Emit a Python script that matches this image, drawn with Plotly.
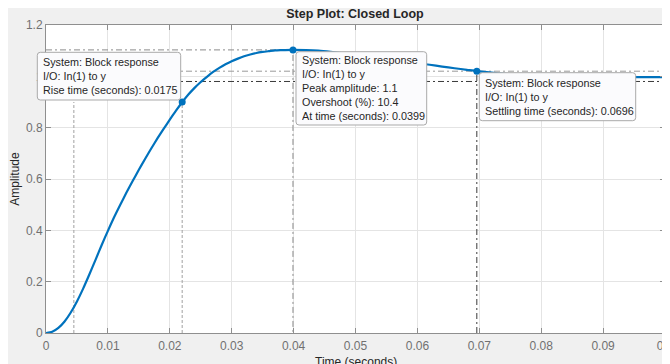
import plotly.graph_objects as go

# ---------------- data ----------------
time_s = [0.000, 0.001, 0.002, 0.003, 0.004, 0.005, 0.006, 0.007, 0.008, 0.009,
          0.010, 0.011, 0.012, 0.013, 0.014, 0.015, 0.016, 0.017, 0.018, 0.019,
          0.020, 0.021, 0.022, 0.023, 0.024, 0.025, 0.026, 0.027, 0.028, 0.029,
          0.030, 0.031, 0.032, 0.033, 0.034, 0.035, 0.036, 0.037, 0.038, 0.0399,
          0.042, 0.044, 0.046, 0.048, 0.050, 0.052, 0.054, 0.056, 0.058, 0.060,
          0.062, 0.064, 0.066, 0.068, 0.0696, 0.072, 0.074, 0.076, 0.078, 0.080,
          0.082, 0.084, 0.086, 0.088, 0.090, 0.092, 0.094, 0.096, 0.098, 0.100]
amplitude = [0.000, 0.005, 0.020, 0.045, 0.080, 0.123, 0.173, 0.228, 0.285, 0.343,
             0.398, 0.451, 0.500, 0.547, 0.592, 0.636, 0.678, 0.719, 0.758, 0.795,
             0.831, 0.866, 0.899, 0.929, 0.955, 0.978, 0.998, 1.017, 1.033, 1.047,
             1.059, 1.069, 1.078, 1.085, 1.091, 1.095, 1.098, 1.101, 1.102, 1.103,
             1.102, 1.0998, 1.0952, 1.0897, 1.0832, 1.0767, 1.0702, 1.0637, 1.0574, 1.0512,
             1.045, 1.038, 1.0315, 1.0255, 1.0205, 1.0145, 1.0095, 1.0055, 1.0025, 1.0003,
             0.9985, 0.9975, 0.997, 0.9967, 0.9966, 0.9966, 0.9967, 0.9968, 0.997, 0.9972]

x_ticks = [0, 0.01, 0.02, 0.03, 0.04, 0.05, 0.06, 0.07, 0.08, 0.09, 0.1]
x_tick_labels = ["0", "0.01", "0.02", "0.03", "0.04", "0.05", "0.06", "0.07", "0.08", "0.09", "0.1"]
y_ticks = [0, 0.2, 0.4, 0.6, 0.8, 1.0, 1.2]
y_tick_labels = ["0", "0.2", "0.4", "0.6", "0.8", "1", "1.2"]

rise_times = [0.0045, 0.022]
rise_high = 0.9
peak_time = 0.0399
peak_amp = 1.103
settle_time = 0.0696
settle_amp = 1.02
settle_band = [0.98, 1.02]

x_title = "Time (seconds)"
y_title = "Amplitude"
chart_title = "Step Plot: Closed Loop"

tip_texts = [
    ["System: Block response", "I/O: In(1) to y", "Rise time (seconds): 0.0175"],
    ["System: Block response", "I/O: In(1) to y", "Peak amplitude: 1.1",
     "Overshoot (%): 10.4", "At time (seconds): 0.0399"],
    ["System: Block response", "I/O: In(1) to y", "Settling time (seconds): 0.0696"],
]

# ---------------- geometry / style ----------------
# The page places the figure 8 px from the top-left corner of the window,
# so the figure is sized to end exactly at the window edge.
OFF = 8
WIN_W, WIN_H = 670, 364
W, H = WIN_W - OFF, WIN_H - OFF
PLOT_L, PLOT_R, PLOT_T, PLOT_B = 46, 665, 25, 333      # plot box in window pixels
ML, MT = PLOT_L - OFF, PLOT_T - OFF
PW, PH = PLOT_R - PLOT_L, PLOT_B - PLOT_T
MR, MB = W - ML - PW, H - MT - PH
FONT = "Liberation Sans, Arial, Helvetica, sans-serif"
BLUE = "#0072BD"
DASHDOT = "6px,3px,2px,3px"


def px2x(px):
    return (px - PLOT_L) / PW


def py2y(py):
    return (PLOT_B - py) / PH


def rounded_rect(x0, y0, x1, y1, r=3):
    pts = [("M", x0 + r, y0), ("L", x1 - r, y0), ("Q", x1, y0, x1, y0 + r),
           ("L", x1, y1 - r), ("Q", x1, y1, x1 - r, y1), ("L", x0 + r, y1),
           ("Q", x0, y1, x0, y1 - r), ("L", x0, y0 + r), ("Q", x0, y0, x0 + r, y0)]
    out = []
    for p in pts:
        s = p[0]
        coords = p[1:]
        for i in range(0, len(coords), 2):
            s += f" {px2x(coords[i]):.5f},{py2y(coords[i + 1]):.5f}"
        out.append(s)
    return " ".join(out) + " Z"


fig = go.Figure()

# rise-time guide lines
for t in rise_times:
    fig.add_trace(go.Scatter(x=[t, t], y=[0, rise_high], mode="lines",
                             line=dict(color="#a0a0a0", width=1, dash="3px,2px"),
                             hoverinfo="skip", showlegend=False))
# peak guide lines
fig.add_trace(go.Scatter(x=[0, peak_time, peak_time], y=[peak_amp, peak_amp, 0], mode="lines",
                         line=dict(color="#8a8a8a", width=1, dash=DASHDOT),
                         hoverinfo="skip", showlegend=False))
# settling band lines
fig.add_trace(go.Scatter(x=[0, 0.1], y=[settle_band[1], settle_band[1]], mode="lines",
                         line=dict(color="#9a9a9a", width=1, dash=DASHDOT),
                         hoverinfo="skip", showlegend=False))
fig.add_trace(go.Scatter(x=[0, 0.1], y=[settle_band[0], settle_band[0]], mode="lines",
                         line=dict(color="#3a3a3a", width=1, dash=DASHDOT),
                         hoverinfo="skip", showlegend=False))
fig.add_trace(go.Scatter(x=[settle_time, settle_time], y=[0, settle_amp], mode="lines",
                         line=dict(color="#3a3a3a", width=1, dash=DASHDOT),
                         hoverinfo="skip", showlegend=False))

# step response
fig.add_trace(go.Scatter(x=time_s, y=amplitude, mode="lines",
                         line=dict(color=BLUE, width=2.2, shape="spline", smoothing=0.6),
                         showlegend=False))
# characteristic markers
fig.add_trace(go.Scatter(x=[rise_times[1], peak_time, settle_time],
                         y=[rise_high, peak_amp, settle_amp], mode="markers",
                         marker=dict(color=BLUE, size=7), showlegend=False, cliponaxis=False))

shapes = []
tip_boxes = [(37.3, 52.3, 180.7, 100.0), (296.0, 51.7, 426.7, 125.0), (479.3, 72.7, 635.7, 120.7)]
annotations = []
PAD = 5
for (x0, y0, x1, y1), lines in zip(tip_boxes, tip_texts):
    shapes.append(dict(type="path", xref="paper", yref="paper", layer="above",
                       path=rounded_rect(x0, y0, x1, y1),
                       fillcolor="#fbfbfd", line=dict(color="#a9a9a9", width=1)))
    annotations.append(dict(xref="paper", yref="paper", x=px2x(x0), y=py2y((y0 + y1) / 2),
                            xanchor="left", yanchor="middle", showarrow=False,
                            width=(x1 - x0) + 20, borderpad=PAD, align="left",
                            text="<br>".join(lines),
                            font=dict(family=FONT, size=10.8, color="#262626")))

# x-axis title (placed just below the tick labels, as in the reference)
annotations.append(dict(xref="paper", yref="paper", x=px2x(355.5), y=py2y(353.5),
                        xanchor="center", yanchor="top", showarrow=False, borderpad=0,
                        text=x_title, font=dict(family=FONT, size=12, color="#262626")))

axis_common = dict(showline=True, linecolor="#8f8f8f", linewidth=1, mirror="ticks",
                   ticks="inside", ticklen=5, tickcolor="#8f8f8f", showgrid=True,
                   gridcolor="#e4e4e4", gridwidth=1, zeroline=False,
                   ticklabeloverflow="allow",
                   tickfont=dict(family=FONT, size=12, color="#707070"))

fig.update_layout(
    width=W, height=H,
    margin=dict(l=ML, r=MR, t=MT, b=MB, autoexpand=False),
    paper_bgcolor="#f0f0f0", plot_bgcolor="white",
    font=dict(family=FONT),
    title=dict(text=f"<b>{chart_title}</b>", x=px2x(355), xref="paper", xanchor="center",
               y=1 - (13.5 - OFF) / H, yref="container", yanchor="middle",
               font=dict(family=FONT, size=12.5, color="#262626")),
    xaxis=dict(range=[0, 0.1], tickvals=x_ticks, ticktext=x_tick_labels, ticklabelstandoff=2,
               automargin=False, **axis_common),
    yaxis=dict(range=[0, 1.2], tickvals=y_ticks, ticktext=y_tick_labels,
               title=dict(text=y_title, standoff=14,
                          font=dict(family=FONT, size=12, color="#262626")),
               automargin=False, **axis_common),
    shapes=shapes,
    annotations=annotations,
)

fig.write_html("out.html")
